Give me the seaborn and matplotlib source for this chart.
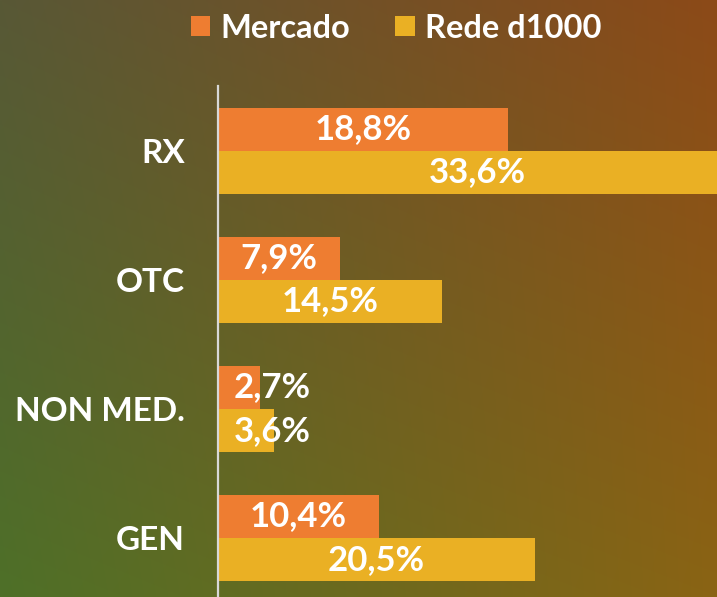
import numpy as np
import pandas as pd
import seaborn as sns
import matplotlib.pyplot as plt

sns.set_style("white")
plt.rcParams['font.family'] = ['Lato', 'DejaVu Sans']
plt.rcParams['font.weight'] = 'bold'

# ---------------------------------------------------------------------------- #
#                                   Data                                       #
# ---------------------------------------------------------------------------- #
categories = ["RX", "OTC", "NON MED.", "GEN"]
mercado = [18.8, 7.9, 2.7, 10.4]
rede = [33.6, 14.5, 3.6, 20.5]
series_names = ["Mercado", "Rede d1000"]
colors = ["#EE7D31", "#EAB024"]

df = pd.DataFrame({
    "categoria": categories * 2,
    "valor": mercado + rede,
    "serie": [series_names[0]] * len(categories) + [series_names[1]] * len(categories),
})

# ---------------------------------------------------------------------------- #
#                                   Figure                                     #
# ---------------------------------------------------------------------------- #
fig = plt.figure(figsize=(7.17, 5.97), dpi=100)

# gradient background (green bottom-left -> orange top-right)
bg = fig.add_axes([0, 0, 1, 1], zorder=-1)
tl = np.array([0x58, 0x58, 0x36]) / 255
tr = np.array([0x8c, 0x4a, 0x18]) / 255
bl = np.array([0x4e, 0x70, 0x28]) / 255
br = np.array([0x8a, 0x64, 0x14]) / 255
u = np.linspace(0, 1, 200)[None, :, None]
v = np.linspace(0, 1, 200)[:, None, None]
grad = (1 - v) * ((1 - u) * tl + u * tr) + v * ((1 - u) * bl + u * br)
bg.imshow(grad, aspect="auto", extent=[0, 1, 0, 1], interpolation="bilinear")
bg.axis("off")

ax = fig.add_axes([218 / 717, 0, 1 - 218 / 717, 511 / 597])
ax.set_facecolor("none")

sns.barplot(data=df, y="categoria", x="valor", hue="serie", orient="h",
            palette=colors, width=0.667, saturation=1, ax=ax, linewidth=0)

ax.set_xlim(0, 32.3)
ax.set_ylim(3.457, -0.504)
ax.set_xlabel("")
ax.set_ylabel("")
ax.set_xticks([])

for s in ["top", "right", "bottom"]:
    ax.spines[s].set_visible(False)
ax.spines["left"].set_color("#d8d8d8")
ax.spines["left"].set_linewidth(1.6)

ax.tick_params(axis="y", length=0, pad=24, labelsize=24, labelcolor="white")
for lbl in ax.get_yticklabels():
    lbl.set_fontweight("bold")

# value labels
for container in ax.containers:
    for bar in container:
        w = bar.get_width()
        yc = bar.get_y() + bar.get_height() / 2
        ax.text(max(w / 2, 3.5), yc, f"{w:.1f}%".replace(".", ","),
                ha="center", va="center", color="white",
                fontsize=25, fontweight="bold", clip_on=False)

# legend on top
handles, labels = ax.get_legend_handles_labels()
ax.legend_.remove()
leg = fig.legend(handles, labels, loc="center", ncol=2, frameon=False,
                 bbox_to_anchor=(396 / 717, 1 - 28 / 597),
                 fontsize=23.5, handlelength=0.6, handleheight=0.6,
                 handletextpad=0.3, columnspacing=1.4)
for t in leg.get_texts():
    t.set_color("white")
    t.set_fontweight("bold")

fig.savefig("out.png", dpi=100)
